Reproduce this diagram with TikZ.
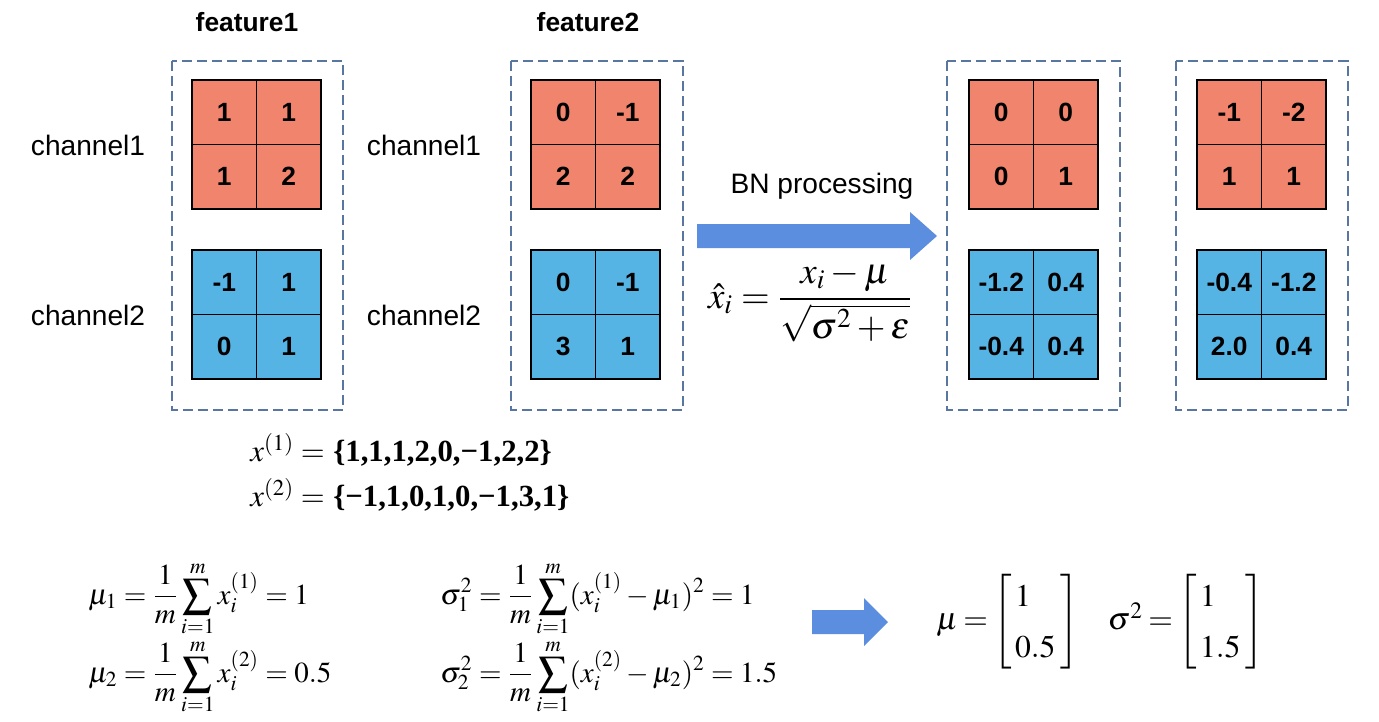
\documentclass[tikz,border=0pt]{standalone}
\usepackage{amsmath}
\usepackage{mathptmx}
\usepackage[no-math]{fontspec}
\setmainfont{Liberation Sans}
\newfontfamily\timesfont{Liberation Serif}
\usetikzlibrary{positioning}

\definecolor{cellred}{RGB}{240,132,108}
\definecolor{cellblue}{RGB}{86,180,228}
\definecolor{boxgrey}{RGB}{88,118,160}
\definecolor{arrowblue}{RGB}{91,142,222}

% 2x2 grid of cells: name, top left corner, colour, four values
\newcommand{\featgrid}[7]{%
  \node[cell, fill=#3, anchor=north west] (#1-a) at (#2) {#4};
  \node[cell, fill=#3] (#1-b) [right=0pt of #1-a] {#5};
  \node[cell, fill=#3] (#1-c) [below=0pt of #1-a] {#6};
  \node[cell, fill=#3] (#1-d) [right=0pt of #1-c] {#7};
}

\begin{document}
\begin{tikzpicture}[x=0.02cm,
					y=-0.02cm,
					cell/.style={draw, line width=0.8pt, minimum size=1.29cm, inner sep=0pt, outer sep=0pt,
					             font=\fontsize{15}{18}\selectfont\bfseries},
					groupbox/.style={draw=boxgrey, line width=0.8pt, dash pattern=on 0.2cm off 0.1cm},
					title/.style={font=\fontsize{15}{18}\selectfont\bfseries},
					chlabel/.style={font=\fontsize{16}{19}\selectfont},
					formula/.style={font=\fontsize{16.5}{20}\selectfont, inner sep=0pt},
					blockarrow/.style={fill=arrowblue}]

  \useasboundingbox (0,0) rectangle (1379,721);

  % input features
  \featgrid{f1r}{192,80}{cellred}{1}{1}{1}{2}
  \featgrid{f1b}{192,250}{cellblue}{-1}{1}{0}{1}
  \featgrid{f2r}{531,80}{cellred}{0}{-1}{2}{2}
  \featgrid{f2b}{531,250}{cellblue}{0}{-1}{3}{1}

  % normalised features
  \featgrid{o1r}{969,80}{cellred}{0}{0}{0}{1}
  \featgrid{o1b}{969,250}{cellblue}{-1.2}{0.4}{-0.4}{0.4}
  \featgrid{o2r}{1197,80}{cellred}{-1}{-2}{1}{1}
  \featgrid{o2b}{1197,250}{cellblue}{-0.4}{-1.2}{2.0}{0.4}

  \draw[groupbox] (172,61) rectangle (343,410);
  \draw[groupbox] (511,61) rectangle (683,410);
  \draw[groupbox] (947,61) rectangle (1120,410);
  \draw[groupbox] (1176,61) rectangle (1348,410);

  \node[title] (feat1) at (247,22) {feature1};
  \node[title] (feat2) at (588,22) {feature2};
  \node[chlabel] (ch1a) at (88,145) {channel1};
  \node[chlabel] (ch2a) at (88,315) {channel2};
  \node[chlabel] (ch1b) at (424,145) {channel1};
  \node[chlabel] (ch2b) at (424,315) {channel2};

  % BN step
  \node[chlabel] (bn) at (822,186) {BN processing};
  \fill[blockarrow] (697,224) -- (910,224) -- (910,212) -- (937,236)
                    -- (910,260) -- (910,248) -- (697,248) -- cycle;
  \node[formula, font=\fontsize{21}{25}\selectfont] (norm) at (810,302)
    {$\displaystyle \hat{x}_i = \frac{x_i - \mu}{\sqrt{\sigma^2 + \varepsilon}}$};

  % channel values
  \node[formula, anchor=west, font=\fontsize{17.5}{21}\selectfont] (set1) at (250,450)
    {$x^{(1)} =$ {\timesfont\bfseries \{1,1,1,2,0,−1,2,2\}}};
  \node[formula, anchor=west, font=\fontsize{17.5}{21}\selectfont] (set2) at (250,495)
    {$x^{(2)} =$ {\timesfont\bfseries \{−1,1,0,1,0,−1,3,1\}}};

  % mean and variance
  \node[formula, anchor=west] (mu1) at (88,599)
    {$\displaystyle \mu_1 = \frac{1}{m}\sum_{i=1}^{m} x_i^{(1)} = 1$};
  \node[formula, anchor=west] (mu2) at (88,677)
    {$\displaystyle \mu_2 = \frac{1}{m}\sum_{i=1}^{m} x_i^{(2)} = 0.5$};
  \node[formula, anchor=west] (var1) at (440,599)
    {$\displaystyle \sigma_1^2 = \frac{1}{m}\sum_{i=1}^{m} (x_i^{(1)} - \mu_1)^2 = 1$};
  \node[formula, anchor=west] (var2) at (440,677)
    {$\displaystyle \sigma_2^2 = \frac{1}{m}\sum_{i=1}^{m} (x_i^{(2)} - \mu_2)^2 = 1.5$};

  \fill[blockarrow] (812,610) -- (864,610) -- (864,598) -- (888,622)
                    -- (864,646) -- (864,634) -- (812,634) -- cycle;

  \node[formula, anchor=west, font=\fontsize{18}{22}\selectfont] (stats) at (936,622)
    {\renewcommand{\arraystretch}{1.3}\thickmuskip=3mu plus 2mu%
     $\mu = \left[\begin{array}{@{\,}l@{\;}}1\\0.5\end{array}\right] \hspace{0.8em}
      \sigma^2 = \left[\begin{array}{@{\,}l@{\;}}1\\1.5\end{array}\right]$};
\end{tikzpicture}
\end{document}
